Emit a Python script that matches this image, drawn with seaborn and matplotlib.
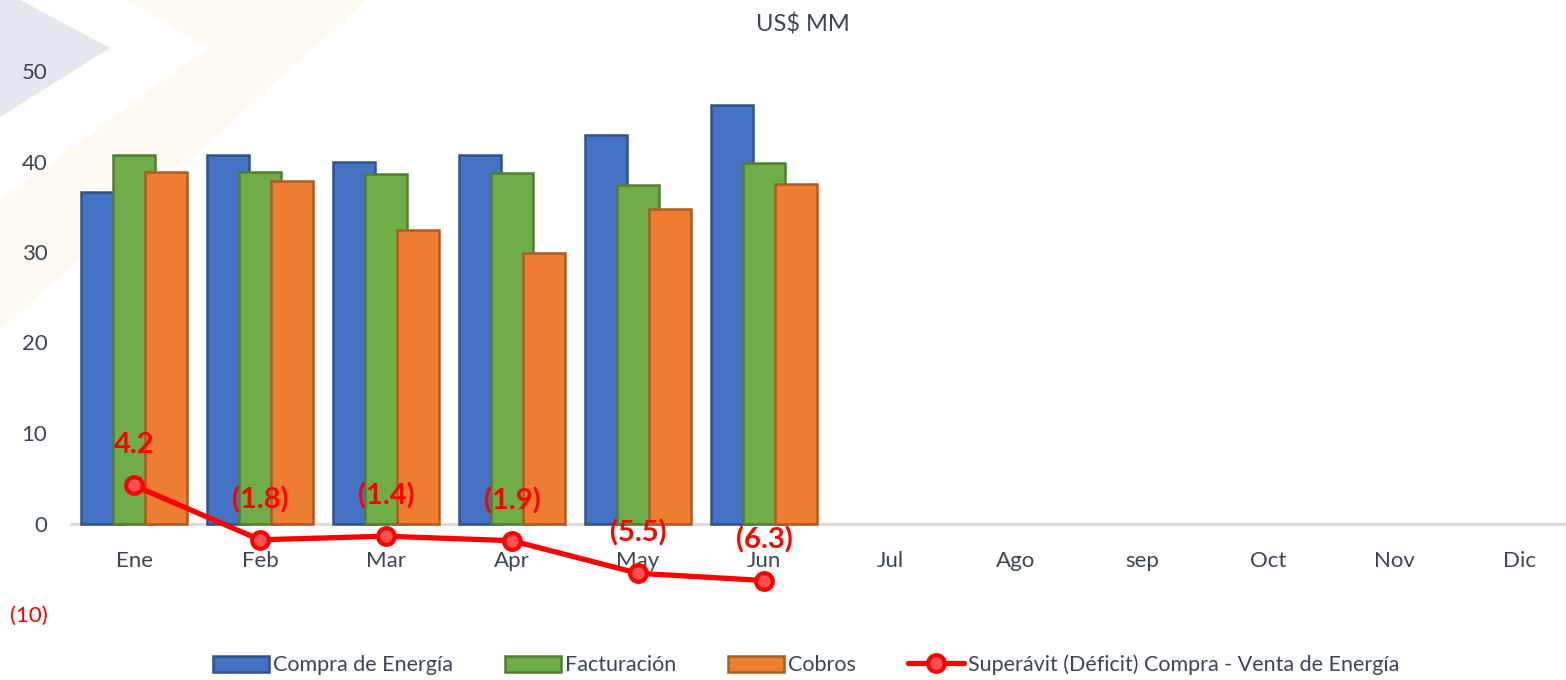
import matplotlib
matplotlib.use("Agg")
import matplotlib.pyplot as plt
from matplotlib.patches import Polygon, Patch
from matplotlib.lines import Line2D
import seaborn as sns
import pandas as pd

months = ["Ene", "Feb", "Mar", "Apr", "May", "Jun", "Jul", "Ago", "sep", "Oct", "Nov", "Dic"]
data_months = ["Ene", "Feb", "Mar", "Apr", "May", "Jun"]
compra = [36.6, 40.7, 40.0, 40.7, 42.9, 46.2]
facturacion = [40.7, 38.8, 38.6, 38.7, 37.4, 39.8]
cobros = [38.8, 37.9, 32.4, 29.9, 34.7, 37.5]
superavit = [4.2, -1.8, -1.4, -1.9, -5.5, -6.3]
series_names = ["Compra de Energía", "Facturación", "Cobros"]
line_name = "Superávit (Déficit) Compra - Venta de Energía"
yticks = [-10, 0, 10, 20, 30, 40, 50]
title = "US$ MM"

def fmt(v):
    return f"({abs(v):.1f})" if v < 0 else f"{v:.1f}"

ytick_labels = [f"({abs(v)})" if v < 0 else str(v) for v in yticks]

fills = ["#4472C4", "#70AD47", "#ED7D31"]
edges = ["#2F528F", "#507E32", "#AE5A21"]
txt = "#3b4556"

sns.set_theme(style="white")
plt.rcParams["font.family"] = ["Lato", "DejaVu Sans"]

W, H = 1566, 680
fig = plt.figure(figsize=(W / 100, H / 100), dpi=100)

# faint watermark shapes in the background
def px(pts):
    return [(x / W, 1 - y / H) for x, y in pts]

fig.add_artist(Polygon(px([(0, 0), (20, 0), (110, 48), (0, 117)]), closed=True,
                       transform=fig.transFigure, facecolor="#e4e7ed", edgecolor="none", zorder=0))
fig.add_artist(Polygon(px([(127, 0), (367, 0), (0, 330), (0, 200), (207, 48)]), closed=True,
                       transform=fig.transFigure, facecolor="#fffaf1", edgecolor="none", zorder=0))

left, right = 71 / W, 1.0
bottom, top = (H - 614) / H, (H - 71) / H
ax = fig.add_axes([left, bottom, right - left, top - bottom])
ax.set_facecolor("none")

df = pd.DataFrame({
    "Mes": data_months * 3,
    "Serie": sum([[s] * len(data_months) for s in series_names], []),
    "Valor": compra + facturacion + cobros,
})

sns.barplot(data=df, x="Mes", y="Valor", hue="Serie", order=months, hue_order=series_names,
            palette=fills, width=0.762, dodge=True, legend=False, ax=ax, zorder=2,
            saturation=1)

# Excel-style overlapping bars: widen each bar around its centre, colour edges
n = len(data_months)
for i, p in enumerate(ax.patches):
    s = min(i // n, 2)
    c = p.get_x() + p.get_width() / 2
    w = 0.341
    p.set_x(c - w / 2)
    p.set_width(w)
    p.set_edgecolor(edges[s])
    p.set_linewidth(1.8)

xpos = [months.index(m) for m in data_months]
sns.lineplot(x=xpos, y=superavit, ax=ax, color="#ff0000", lw=3.8, marker="o",
             markersize=12, markerfacecolor="#ff5050", markeredgecolor="#ff0000",
             markeredgewidth=3, zorder=5, legend=False)

for x, v in zip(xpos, superavit):
    ax.annotate(fmt(v), (x, v), xytext=(0, 29), textcoords="offset points",
                ha="center", va="center", color="#ff0000", fontsize=21,
                fontweight="bold", zorder=6)

ax.set_xlim(-0.5, (W - 134) / 126)
ax.set_ylim(-10, 50)
ax.set_yticks(yticks, labels=ytick_labels)
for lab, v in zip(ax.get_yticklabels(), yticks):
    lab.set_color("#ff0000" if v < 0 else txt)
ax.tick_params(axis="y", length=0, pad=17, labelsize=16)
ax.tick_params(axis="x", length=0, pad=20, labelsize=16, labelcolor=txt)

for sp in ["top", "right", "left"]:
    ax.spines[sp].set_visible(False)
ax.spines["bottom"].set_position(("data", 0))
ax.spines["bottom"].set_color("#d9d9d9")
ax.spines["bottom"].set_linewidth(2)
ax.spines["bottom"].set_zorder(1)
ax.set_xlabel("")
ax.set_ylabel("")
ax.grid(False)

fig.text(803 / W, 1 - 25 / H, title, ha="center", va="center", fontsize=17, color=txt)

handles = [Patch(facecolor=f, edgecolor=e, linewidth=1.8) for f, e in zip(fills, edges)]
handles.append(Line2D([0], [0], color="#ff0000", lw=3.8, marker="o", markersize=12,
                      markerfacecolor="#ff5050", markeredgecolor="#ff0000", markeredgewidth=3))
fig.legend(handles, series_names + [line_name], loc="center", bbox_to_anchor=(806 / W, 1 - 665 / H),
           ncol=4, frameon=False, fontsize=15.5, labelcolor=txt, handlelength=2.6,
           handleheight=0.8, handletextpad=0.2, columnspacing=2.4)

fig.savefig("out.png", dpi=100)
